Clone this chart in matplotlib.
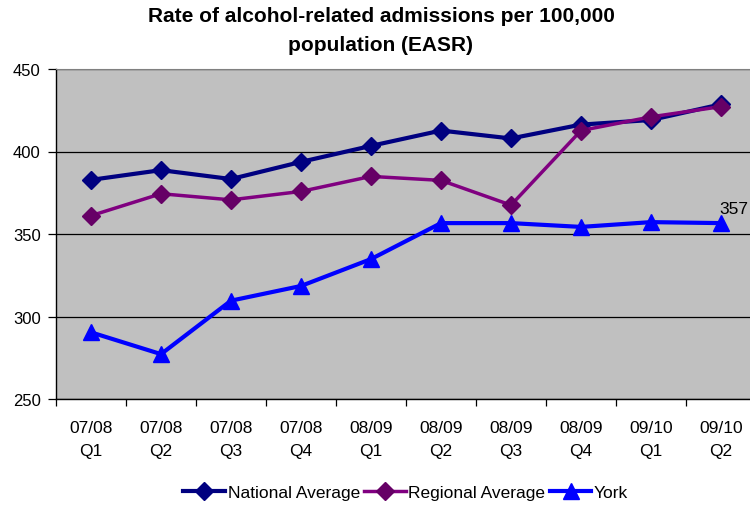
import numpy as np
import matplotlib.pyplot as plt
from matplotlib.ticker import FixedLocator

plt.rcParams['font.family'] = ['Liberation Sans', 'DejaVu Sans']

# data
quarters = ["07/08\nQ1", "07/08\nQ2", "07/08\nQ3", "07/08\nQ4",
            "08/09\nQ1", "08/09\nQ2", "08/09\nQ3", "08/09\nQ4",
            "09/10\nQ1", "09/10\nQ2"]
national = [382.8, 388.7, 383.3, 393.7, 403.4, 412.7, 407.9, 416.3, 419.1, 428.6]
regional = [361.1, 374.4, 370.7, 375.8, 384.9, 382.5, 367.5, 412.7, 421.0, 427.2]
york = [290.4, 277.2, 309.6, 318.5, 334.8, 356.6, 356.6, 354.3, 357.2, 356.6]

fig = plt.figure(figsize=(7.5, 5.06), dpi=100)
# plot area runs slightly past the right edge, as in the cropped original
ax = fig.add_axes([56/750, 1-400/506, 700/750, 330/506])
ax.set_facecolor('#C0C0C0')

x = np.arange(len(quarters))
ax.plot(x, national, color='#000080', lw=3, marker='D', ms=9,
        mfc='#000080', mec='#000080', label='National Average', zorder=3)
ax.plot(x, regional, color='#800080', lw=2.5, marker='D', ms=9,
        mfc='#660066', mec='#660066', label='Regional Average', zorder=3)
ax.plot(x, york, color='#0000FF', lw=3, marker='^', ms=11,
        mfc='#0000FF', mec='#0000FF', label='York', zorder=3)

# data label on the last York point
ax.annotate(f"{york[-1]:.0f}", (x[-1], york[-1]), xytext=(-1.5, 5),
            textcoords='offset points', fontsize=12.5, ha='left', va='bottom')

ax.set_xlim(-0.5, len(quarters) - 0.5)
ax.set_ylim(250, 450)
ax.set_yticks([250, 300, 350, 400, 450])
ax.yaxis.grid(True, color='black', lw=0.9)
ax.set_axisbelow(True)

# ticks between the categories, labels under the categories
ax.xaxis.set_major_locator(FixedLocator(np.arange(-0.5, len(quarters), 1)))
ax.set_xticklabels([])
ax.xaxis.set_minor_locator(FixedLocator(x))
ax.set_xticklabels(quarters, minor=True)
ax.tick_params(axis='x', which='major', length=5, width=0.9, direction='out')
ax.tick_params(axis='x', which='minor', length=0, pad=15, labelsize=12.5)
for lab in ax.get_xticklabels(minor=True):
    lab.set_linespacing(1.7)
ax.tick_params(axis='y', length=6, width=0.9, direction='out', labelsize=12, pad=5)

for s in ['left', 'bottom']:
    ax.spines[s].set_color('black')
    ax.spines[s].set_linewidth(1)
ax.spines['top'].set_color('#808080')
ax.spines['right'].set_visible(False)

fig.text(0.508, 0.939, "Rate of alcohol-related admissions per 100,000\npopulation (EASR)",
         ha='center', va='center', fontsize=15, fontweight='bold', linespacing=1.65)

fig.legend(loc='center', bbox_to_anchor=(0.541, 0.024), ncol=3, frameon=False,
           fontsize=12.5, handlelength=2.4, columnspacing=0.25, handletextpad=0.15)

fig.savefig('out.png', dpi=100)
